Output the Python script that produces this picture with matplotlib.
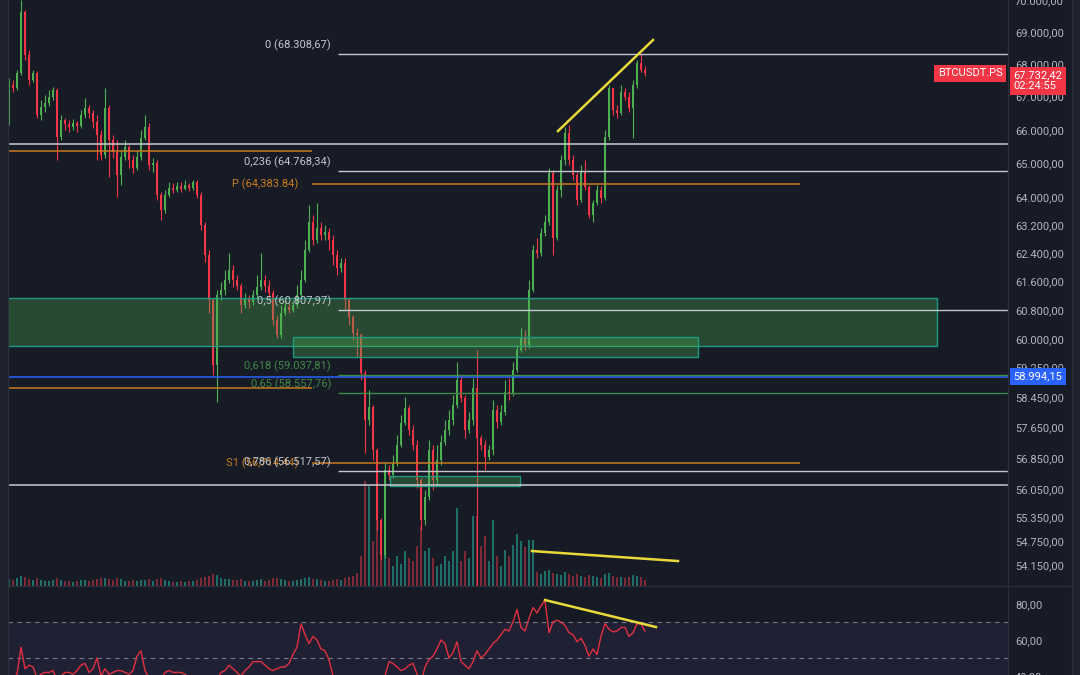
import numpy as np
import matplotlib.pyplot as plt
import matplotlib.transforms as mtransforms
from matplotlib.patches import Rectangle
from matplotlib.lines import Line2D
from matplotlib.ticker import FixedLocator, FuncFormatter, NullLocator

plt.rcParams['font.family'] = ['Roboto', 'DejaVu Sans']

# ---- data (BTCUSDT perp, intraday candles) ----
first_open = 66200
closes = [67360, 67260, 67720, 69630, 68280, 67510, 67720, 66440, 66690, 66810,
          66990, 67200, 65780, 66290, 66170, 66080, 66200, 66110, 66440, 66660,
          66500, 66230, 65840, 65250, 66660, 65690, 65340, 64660, 65190, 65480,
          65100, 64860, 65190, 65750, 66080, 64950, 65010, 64070, 63640, 64070,
          64280, 64220, 64330, 64250, 64360, 64280, 64450, 64070, 63200, 62350,
          61090, 59310, 61220, 61360, 61640, 61920, 61640, 61480, 60950, 61140,
          61030, 61220, 61450, 61640, 61480, 61280, 60530, 60120, 60720, 60890,
          60810, 60950, 61220, 61640, 62490, 63290, 62770, 63120, 62920, 63000,
          62770, 62350, 61980, 62120, 61090, 60620, 60180, 60120, 59090, 57840,
          58190, 57060, 55270, 54400, 56540, 56410, 56720, 57190, 57760, 58160,
          57580, 57190, 56290, 55270, 55850, 57060, 56290, 56800, 57270, 57580,
          57840, 58240, 58900, 58420, 57580, 57840, 58690, 57370, 57190, 56880,
          57060, 58110, 57790, 58050, 58580, 58560, 59170, 59710, 60070, 59850,
          61360, 62490, 62400, 62970, 63290, 64720, 62830, 64220, 65100, 65900,
          65100, 64660, 63930, 64740, 64300, 63490, 63840, 64220, 63980, 65780,
          67260, 66600, 66500, 67140, 66990, 66660, 67360, 68030, 67820, 67732.42]
highs = [67570, 67510, 67820, 70000, 69690, 68440, 67820, 67790, 66900, 67050,
         67200, 67300, 67260, 66440, 66350, 66290, 66320, 66260, 66600, 66960,
         66750, 66600, 66440, 65990, 67260, 66750, 65840, 65690, 65400, 65690,
         65540, 65250, 65400, 65990, 66440, 66200, 65160, 65100, 64160, 64220,
         64450, 64420, 64450, 64450, 64510, 64420, 64510, 64510, 64160, 63290,
         62490, 61140, 61360, 61590, 61920, 62400, 62070, 61780, 61560, 61280,
         61220, 61360, 61780, 62400, 61780, 61640, 61360, 60670, 60950, 61090,
         61000, 61090, 61500, 61920, 62770, 63780, 63490, 63840, 63290, 63200,
         63120, 62920, 62490, 62260, 62260, 61140, 60670, 60310, 60180, 59170,
         58640, 58240, 57110, 55320, 56750, 56670, 56930, 57450, 57970, 58450,
         58240, 57710, 57320, 56340, 56030, 57320, 57190, 57190, 57450, 57840,
         58110, 58500, 59390, 59040, 58500, 58050, 58960, 59710, 57450, 57320,
         57190, 58370, 58240, 58240, 58900, 58960, 59390, 59850, 60310, 60260,
         61640, 62630, 62830, 63120, 63490, 64860, 64800, 64360, 65250, 66080,
         66140, 65250, 64740, 64950, 65100, 64360, 63930, 64360, 64330, 65990,
         67360, 67260, 66750, 67360, 67260, 67140, 67510, 68130, 68308.67, 67940]
lows = [66140, 67140, 67200, 67660, 68130, 67360, 67450, 66350, 66290, 66530,
        66720, 66900, 65100, 65690, 65990, 65930, 65990, 65930, 66050, 66350,
        66350, 66050, 65100, 65100, 65160, 64600, 65160, 64010, 64360, 65100,
        64860, 64720, 64800, 65100, 65690, 64800, 64740, 63930, 63350, 63550,
        64010, 64130, 64160, 64160, 64220, 64190, 64220, 63980, 63060, 62150,
        60720, 59040, 58320, 61090, 61220, 61560, 61450, 61360, 60720, 60860,
        60860, 60950, 61140, 61360, 61310, 61090, 60400, 60040, 60040, 60670,
        60720, 60750, 60860, 61140, 61590, 62430, 62630, 62690, 62770, 62770,
        62490, 62070, 61780, 61870, 60810, 60400, 59990, 59520, 58900, 56980,
        57710, 56800, 55020, 54280, 54330, 56290, 56340, 56650, 57140, 57710,
        57450, 57060, 56080, 55020, 55150, 55780, 56030, 56160, 56670, 57190,
        57450, 57710, 58160, 58320, 57370, 57500, 57710, 53500, 57060, 56540,
        56800, 56930, 57630, 57710, 57970, 58370, 58480, 59120, 59660, 59710,
        59770, 61310, 62260, 62320, 62890, 63200, 62350, 62770, 64010, 64950,
        64950, 64510, 63780, 63870, 64220, 63400, 63290, 63780, 63840, 63930,
        65690, 66440, 66350, 66440, 66900, 66530, 65750, 67260, 67760, 67630]
volumes = [700, 600, 800, 1000, 900, 700, 600, 800, 600, 500,
           500, 600, 800, 600, 500, 500, 400, 500, 600, 600,
           500, 600, 700, 800, 800, 700, 600, 800, 700, 500,
           500, 600, 500, 600, 600, 700, 500, 700, 800, 600,
           500, 400, 400, 500, 400, 500, 500, 600, 800, 900,
           1000, 1200, 1100, 800, 700, 700, 600, 600, 700, 500,
           500, 500, 600, 700, 500, 600, 800, 800, 700, 600,
           500, 500, 600, 700, 800, 900, 700, 700, 600, 500,
           500, 600, 700, 600, 800, 900, 1000, 1300, 3000, 10500,
           10000, 4500, 7000, 6000, 5500, 2800, 2000, 3000, 2200, 3500,
           2800, 2500, 4000, 6000, 3500, 3800, 2800, 2000, 2200, 3000,
           2500, 3500, 7800, 2500, 3500, 2800, 7000, 7000, 4000, 5000,
           2500, 6600, 3000, 2000, 3600, 3000, 4100, 5200, 4500, 3900,
           4600, 4600, 1400, 1200, 1500, 1600, 1300, 1200, 1100, 1400,
           1200, 1000, 1200, 1000, 900, 1100, 1000, 900, 800, 1200,
           1300, 1000, 900, 900, 800, 900, 1100, 1000, 900, 600]
rsi = [37, 38, 41, 56, 44, 46, 45, 39, 41, 42,
       42, 43, 38, 40, 42, 42, 41, 43, 46, 47,
       42, 44, 50, 40, 44, 41, 42, 43, 43, 42,
       41, 43, 51, 54, 43, 39, 38, 37, 38, 42,
       43, 42, 42, 42, 41, 39, 38, 37, 35, 33,
       31, 28, 38, 42, 43, 46, 44, 42, 40, 43,
       45, 48, 48, 48, 46, 44, 43, 44, 45, 45,
       47, 52, 56, 69, 63, 58, 62, 60, 55, 54,
       49, 40, 38, 39, 34, 31, 29, 32, 28, 24,
       28, 24, 20, 18, 40, 48, 47, 45, 43, 44,
       46, 47, 41, 36, 45, 49, 51, 55, 60, 58,
       50, 53, 59, 48, 46, 44, 48, 54, 50, 52,
       55, 58, 60, 63, 66, 65, 70, 77, 67, 65,
       72, 78, 75, 79, 82, 64, 70, 71, 70, 68,
       64, 63, 59, 61, 57, 51, 55, 52, 62, 69,
       66, 64.5, 65, 67, 67, 62, 64, 69, 69, 65]

price_ticks = [70000, 69000, 68000, 67000, 66000, 65000, 64000, 63200, 62400, 61600,
               60800, 60000, 59250, 58450, 57650, 56850, 56050, 55350, 54750, 54150]
rsi_ticks = [80, 60, 40]

fib_names = ["0", "0,236", "0,5", "0,618", "0,65", "0,786"]
fib_values = [68308.67, 64768.34, 60807.97, 59037.81, 58557.76, 56517.57]
fib_colors = ['#c3c6ce', '#c3c6ce', '#c3c6ce', '#3f8a45', '#3f8a45', '#c3c6ce']
pivot_names = ["P", "S1"]
pivot_values = [64383.84, 56714.44]
prev_pivot_values = [65365, 58690]
level_lines = [65570, 56160]
mark_price = 58994.15
last_price = 67732.42
countdown = "02:24:55"
symbol = "BTCUSDT.PS"

# drawings (bar-index / price anchors)
zones = [(-0.25, 232, 59830, 61132), (71, 172.25, 59515, 60075), (95.25, 127.75, 56125, 56396)]
fib_start = 82.25
pivot_start, pivot_end = 75.75, 197.75
price_trend = ([137.25, 161], [65962, 68748])
vol_trend = ([130.75, 167.25], [54499, 54252])
rsi_trend = ([134, 161.75], [82.2, 67.2])

BG = '#161a25'
UP, DOWN = '#4caf50', '#f23645'
TXT = '#b2b5be'


def eu(v):
    return f"{v:,.2f}".replace(',', 'X').replace('.', ',').replace('X', '.')


closes = np.array(closes, float)
opens = np.r_[first_open, closes[:-1]]
highs = np.maximum(np.array(highs, float), np.maximum(opens, closes))
lows = np.minimum(np.array(lows, float), np.minimum(opens, closes))
x = np.arange(len(closes))
up = closes >= opens
ccol = np.where(up, UP, DOWN)
vcol = np.where(up, '#1f6e68', '#7b2a36')

W, H = 1080, 675
fig = plt.figure(figsize=(W / 100, H / 100), dpi=100, facecolor='#171b26')
l, w = 8 / W, 1000 / W
pb = 1 - 586 / H
ax_vol = fig.add_axes([l, pb, w, 586 / H], facecolor=BG)
ax = fig.add_axes([l, pb, w, 586 / H], facecolor='none')
ax_rsi = fig.add_axes([l, -2 / H, w, 90 / H], facecolor=BG)

xlim = (-0.25, 249.75)

# volume overlay
ax_vol.bar(x, volumes, width=0.7, color=vcol, linewidth=0)
ax_vol.set_xlim(*xlim)
ax_vol.set_ylim(0, 58600)
ax_vol.axis('off')

# price pane
ax.set_yscale('log')
ax.set_xlim(*xlim)
ax.set_ylim(53640, 70010)
ax.vlines(x, lows, highs, colors=ccol, linewidth=0.8, zorder=2)
ax.bar(x, np.maximum(np.abs(closes - opens), 12), bottom=np.minimum(opens, closes),
       width=0.72, color=ccol, linewidth=0, zorder=2)

for x0, x1, p0, p1 in zones:
    ax.add_patch(Rectangle((x0, p0), x1 - x0, p1 - p0, facecolor='#4caf50', alpha=0.32,
                           edgecolor='none', zorder=3))
    ax.add_patch(Rectangle((x0, p0), x1 - x0, p1 - p0, facecolor='none',
                           edgecolor='#1f9a80', linewidth=1, zorder=3))

for v in level_lines:
    ax.axhline(v, color='#c9ccd4', linewidth=1.1, zorder=4)
ax.axhline(mark_price, color='#2962ff', linewidth=1.1, zorder=4)
for v in prev_pivot_values:
    ax.hlines(v, xlim[0], pivot_start, color='#c77a1e', linewidth=1.1, zorder=4)
for name, v in zip(pivot_names, pivot_values):
    ax.hlines(v, pivot_start, pivot_end, color='#c77a1e', linewidth=1.1, zorder=4)
    ax.annotate(f"{name} ({v:,.2f})", xy=(pivot_start, v), xytext=(-10, 0),
                textcoords='offset points', ha='right', va='center',
                color='#c77a1e', fontsize=8, zorder=5)
for name, v, c in zip(fib_names, fib_values, fib_colors):
    ax.hlines(v, fib_start, xlim[1], color=c, linewidth=1, zorder=4)
    ax.annotate(f"{name} ({eu(v)})", xy=(fib_start, v), xytext=(-5, 2),
                textcoords='offset points', ha='right', va='bottom',
                color=c, fontsize=8, zorder=5)

ax.plot(*price_trend, color='#e9d93a', linewidth=1.8, zorder=5)
ax.plot(*vol_trend, color='#e9d93a', linewidth=1.8, zorder=5)

ax.yaxis.tick_right()
ax.yaxis.set_major_locator(FixedLocator(price_ticks))
ax.yaxis.set_major_formatter(FuncFormatter(lambda v, p: eu(v)))
ax.yaxis.set_minor_locator(NullLocator())
ax.tick_params(axis='y', length=0, pad=5, labelsize=8, labelcolor=TXT)
ax.set_xticks([])
for s in ax.spines.values():
    s.set_visible(False)

blend = mtransforms.blended_transform_factory(ax.transAxes, ax.transData)
ax.annotate(f"{eu(last_price)}\n{countdown}", xy=(1, last_price), xycoords=blend,
            xytext=(4, 1.5), textcoords='offset points', ha='left', va='top',
            color='white', fontsize=8, linespacing=1.05, annotation_clip=False,
            bbox=dict(boxstyle='square,pad=0.35', fc=DOWN, ec='none'), zorder=6)
ax.annotate(symbol, xy=(1, last_price), xycoords=blend, xytext=(-4, -0.5),
            textcoords='offset points', ha='right', va='center', color='white',
            fontsize=8, annotation_clip=False,
            bbox=dict(boxstyle='square,pad=0.3', fc=DOWN, ec='none'), zorder=6)
ax.annotate(eu(mark_price), xy=(1, mark_price), xycoords=blend, xytext=(4, 0),
            textcoords='offset points', ha='left', va='center', color='white',
            fontsize=8, annotation_clip=False,
            bbox=dict(boxstyle='square,pad=0.3', fc='#2962ff', ec='none'), zorder=6)

# RSI pane
ax_rsi.set_xlim(*xlim)
ax_rsi.set_ylim(39.44, 89.44)
ax_rsi.axhspan(30, 70, color='#7e57c2', alpha=0.1, linewidth=0)
for v in (70, 50):
    ax_rsi.axhline(v, color='#787b86', linewidth=0.8, linestyle=(0, (4, 4)))
ax_rsi.plot(x, rsi, color='#e0303f', linewidth=1)
ax_rsi.plot(*rsi_trend, color='#e9d93a', linewidth=1.8)
ax_rsi.yaxis.tick_right()
ax_rsi.set_yticks(rsi_ticks)
ax_rsi.yaxis.set_major_formatter(FuncFormatter(lambda v, p: f"{v:.2f}".replace('.', ',')))
ax_rsi.tick_params(axis='y', length=0, pad=5, labelsize=8, labelcolor=TXT)
ax_rsi.set_xticks([])
for s in ax_rsi.spines.values():
    s.set_visible(False)

# frame pieces: side strips and pane separators
fig.add_artist(Rectangle((0, 0), 8 / W, 1, transform=fig.transFigure, fc='#1e222d', ec='none'))
fig.add_artist(Rectangle((1072 / W, 0), 8 / W, 1, transform=fig.transFigure, fc='#1e222d', ec='none'))
sep = '#2a2e39'
fig.add_artist(Line2D([1008 / W] * 2, [0, 1], transform=fig.transFigure, color=sep, linewidth=1))
fig.add_artist(Line2D([1072 / W] * 2, [0, 1], transform=fig.transFigure, color=sep, linewidth=1))
fig.add_artist(Line2D([8 / W] * 2, [0, 1], transform=fig.transFigure, color=sep, linewidth=1))
fig.add_artist(Line2D([8 / W, 1072 / W], [pb, pb], transform=fig.transFigure, color=sep, linewidth=1))

fig.savefig('out.png', dpi=100, facecolor=fig.get_facecolor())
